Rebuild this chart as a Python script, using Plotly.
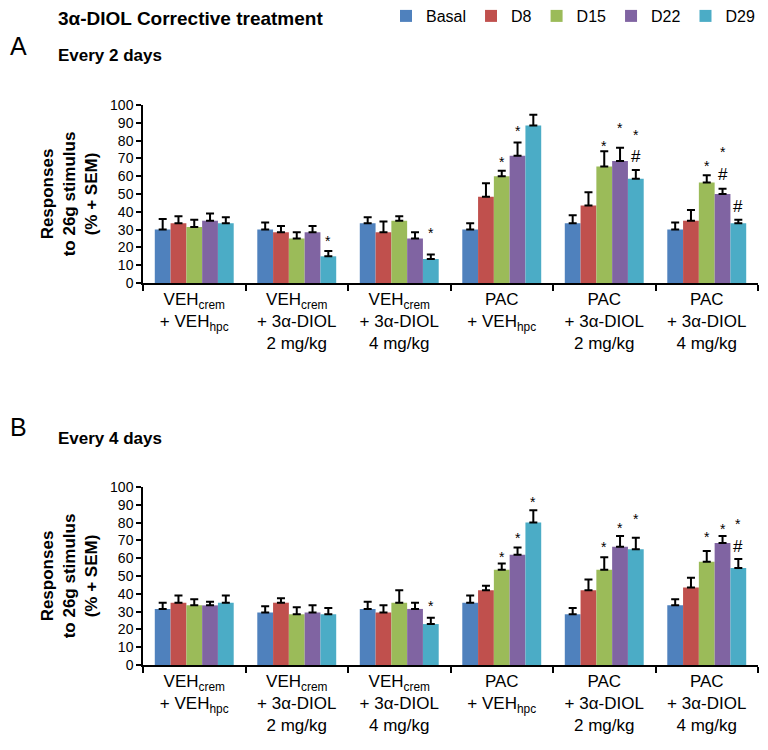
import plotly.graph_objects as go

groups = [
    "VEH<sub>crem</sub><br>+ VEH<sub>hpc</sub><br> ",
    "VEH<sub>crem</sub><br>+ 3α-DIOL<br>2 mg/kg",
    "VEH<sub>crem</sub><br>+ 3α-DIOL<br>4 mg/kg",
    "PAC<br>+ VEH<sub>hpc</sub><br> ",
    "PAC<br>+ 3α-DIOL<br>2 mg/kg",
    "PAC<br>+ 3α-DIOL<br>4 mg/kg",
]
series = ["Basal", "D8", "D15", "D22", "D29"]
colors = ["#4F81BD", "#C0504D", "#9BBB59", "#8064A2", "#4BACC6"]

# Panel A: every 2 days
a_basal = [30, 30, 33.5, 30, 33.5, 30]
a_d8 = [33.5, 28.5, 28.5, 48.5, 43.5, 35]
a_d15 = [31.5, 25, 35, 60, 65.5, 56.5]
a_d22 = [35, 28.5, 25, 71.5, 68.5, 50]
a_d29 = [33.5, 15, 13.5, 88.5, 58.5, 33.5]
a_sem_basal = [6, 4, 3.5, 3.5, 4.5, 4]
a_sem_d8 = [4, 3.5, 6, 7.5, 7.5, 6]
a_sem_d15 = [4, 3.5, 2.5, 3, 8.5, 4]
a_sem_d22 = [4, 3.5, 3.5, 7.5, 7.5, 3]
a_sem_d29 = [3.5, 3, 2.5, 6, 5, 2]

# Panel B: every 4 days
b_basal = [31.5, 29.5, 31.5, 35, 28.5, 33.5]
b_d8 = [35, 35, 29.5, 42, 42, 43.5]
b_d15 = [33.5, 28.5, 35, 53.5, 53.5, 58]
b_d22 = [33.5, 29.5, 31.5, 62, 66.5, 68.5]
b_d29 = [35, 28.5, 23, 80, 65, 54.5]
b_sem_basal = [3.5, 3.5, 4, 4, 3.5, 3.5]
b_sem_d8 = [4, 2.5, 4, 2.5, 6, 5.5]
b_sem_d15 = [3.5, 4, 7, 3.5, 7, 6]
b_sem_d22 = [2, 4, 3.5, 4, 6, 4]
b_sem_d29 = [4, 3.5, 3.5, 7, 6.5, 5]

# significance marks: (group index, series index, symbol, height in % units)
a_marks = [
    (1, 4, "*", 25.9), (2, 4, "*", 30.6),
    (3, 2, "*", 70.0), (3, 3, "*", 87.8), (3, 4, "*", 106.2),
    (4, 2, "*", 79.4), (4, 3, "*", 89.1), (4, 4, "*", 85.4), (4, 4, "#", 70.9),
    (5, 2, "*", 68.1), (5, 3, "*", 75.6), (5, 3, "#", 61.0), (5, 4, "#", 42.8),
]
b_marks = [
    (2, 4, "*", 35.4),
    (3, 2, "*", 63.1), (3, 3, "*", 73.8), (3, 4, "*", 93.8),
    (4, 2, "*", 68.7), (4, 3, "*", 79.4), (4, 4, "*", 84.5),
    (5, 2, "*", 74.2), (5, 3, "*", 78.8), (5, 4, "*", 81.3), (5, 4, "#", 66.3),
]

a_means = [a_basal, a_d8, a_d15, a_d22, a_d29]
a_sems = [a_sem_basal, a_sem_d8, a_sem_d15, a_sem_d22, a_sem_d29]
b_means = [b_basal, b_d8, b_d15, b_d22, b_d29]
b_sems = [b_sem_basal, b_sem_d8, b_sem_d15, b_sem_d22, b_sem_d29]

FONT = "Liberation Sans, Arial, sans-serif"
BARGAP = 0.23
bw = (1 - BARGAP) / len(series)

fig = go.Figure()
for panel, (means, sems, xa, ya) in enumerate([(a_means, a_sems, "x", "y"), (b_means, b_sems, "x2", "y2")]):
    for j, name in enumerate(series):
        fig.add_trace(go.Bar(
            x=groups, y=means[j], name=name, legendgroup=name,
            showlegend=(panel == 0),
            marker=dict(color=colors[j], line=dict(width=0)),
            error_y=dict(type="data", symmetric=False, array=sems[j],
                         arrayminus=[0] * len(sems[j]),
                         color="black", thickness=2, width=4),
            xaxis=xa, yaxis=ya,
        ))

annotations = []
for marks, xr, yr in [(a_marks, "x", "y"), (b_marks, "x2", "y2")]:
    for g, s, sym, h in marks:
        annotations.append(dict(
            x=g + (s - 2) * bw, y=h, xref=xr, yref=yr, text=sym,
            showarrow=False, yanchor="middle",
            yshift=-4 if sym == "*" else 0,
            font=dict(family=FONT, size=14 if sym == "*" else 17, color="black"),
        ))

W, H = 768, 750
def px(xv): return xv / W
def py(yv): return 1 - yv / H

texts = [
    ("<b>3α-DIOL Corrective treatment</b>", 56, 18, 19),
    ("A", 8, 46, 25),
    ("<b>Every 2 days</b>", 56, 56, 17),
    ("B", 8, 427, 25),
    ("<b>Every 4 days</b>", 56, 438, 17),
]
for t, xx, yy, fs in texts:
    annotations.append(dict(
        x=px(xx), y=py(yy), xref="paper", yref="paper", text=t,
        showarrow=False, xanchor="left", yanchor="middle",
        font=dict(family=FONT, size=fs, color="black"),
    ))

xaxis_common = dict(
    showline=True, linecolor="black", linewidth=1.5,
    ticks="outside", tickson="boundaries", ticklen=6, tickcolor="black",
    tickwidth=1.5, showgrid=False, zeroline=False, automargin=False,
    tickfont=dict(family=FONT, size=17, color="black"),
    domain=[px(143), px(758)],
)
yaxis_common = dict(
    range=[0, 100], dtick=10, showline=True, linecolor="black", linewidth=1.5,
    ticks="outside", ticklen=5, tickcolor="black", tickwidth=1.5,
    showgrid=False, zeroline=False, automargin=False,
    tickfont=dict(family=FONT, size=14, color="black"),
    title=dict(text="<b>Responses<br>to 26g stimulus<br>(% + SEM)</b>",
               font=dict(family=FONT, size=17, color="black"), standoff=8),
)

fig.update_layout(
    width=W, height=H,
    margin=dict(l=0, r=0, t=0, b=0, autoexpand=False),
    paper_bgcolor="white", plot_bgcolor="white",
    barmode="group", bargap=BARGAP, bargroupgap=0,
    font=dict(family=FONT, color="black"),
    xaxis=dict(**xaxis_common, anchor="y"),
    xaxis2=dict(**xaxis_common, anchor="y2"),
    yaxis=dict(**yaxis_common, domain=[py(283), py(105)], anchor="x"),
    yaxis2=dict(**yaxis_common, domain=[py(665), py(487)], anchor="x2"),
    legend=dict(orientation="h", x=px(760), xanchor="right", y=py(16), yanchor="middle",
                font=dict(family=FONT, size=16, color="black"),
                itemwidth=30, tracegroupgap=0, bgcolor="rgba(0,0,0,0)"),
    annotations=annotations,
    showlegend=True,
)

fig.write_html("out.html", config={"displayModeBar": False},
               post_script="document.body.style.margin='0px';document.body.style.overflow='hidden';")
